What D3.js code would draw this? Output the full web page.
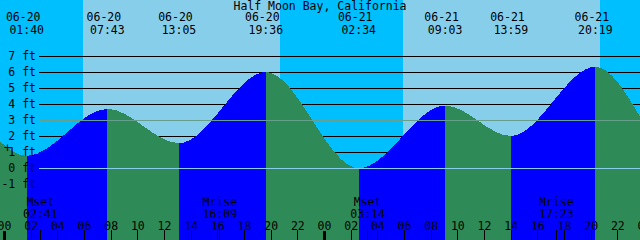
<!DOCTYPE html>
<html>
<head>
<meta charset="utf-8">
<script src="https://cdn.jsdelivr.net/npm/d3@7"></script>
<style>
  body { margin: 0; background: #fff; }
  svg { display: block; }
  text { font-family: "DejaVu Sans Mono", monospace; font-size: 11.5px; fill: #000; }
</style>
</head>
<body>
<div id="container"></div>
<script>
// Chart size
const width = 640, height = 240;

// Station name
const title = "Half Moon Bay, California";

// High / low tides (month-day hour:minute) and heights in feet
const tideTimes = ["06-20 01:40", "06-20 07:43", "06-20 13:05", "06-20 19:36",
                   "06-21 02:34", "06-21 09:03", "06-21 13:59", "06-21 20:19"];
const tideHeights = [0.75, 3.7, 1.55, 6.0, -0.02, 3.9, 2.0, 6.33];

// Tide level read at the left and right edges of the picture
const edgeTimes = ["06-19 23:40", "06-21 23:40"];
const edgeHeights = [1.64, 3.2];

// Sun and moon events
const sunriseTimes = ["06-20 05:52", "06-21 05:52"];
const sunsetTimes = ["06-20 20:40", "06-21 20:40"];
const moonNames = ["Mset", "Mrise", "Mset", "Mrise"];
const moonTimes = ["06-20 02:41", "06-20 16:09", "06-21 03:14", "06-21 17:23"];

// Height axis labels (feet) and reference lines
const feetTicks = [-1, 0, 1, 2, 3, 4, 5, 6, 7];
const datumLevel = 0;
const meanLevel = 3;

// Colours
const dayColor = "#87CEEB", nightColor = "#00BFFF";
const floodColor = "#0000FF", ebbColor = "#2E8B57";
const datumColor = "#87CEEB", meanColor = "#66A08C";

// Parse "MM-DD HH:MM" in a fixed year
const parse = d3.timeParse("%Y-%m-%d %H:%M");
const t = s => parse("2024-" + s);

// Time scale: midnight of 06-20 sits at x = 4.5, 13.33 px per hour
const start = new Date(+t("06-20 00:00") - 20.25 * 60000);
const end = new Date(+start + 48 * 3600000);
const x = d3.scaleTime().domain([start, end]).range([0, width]);
const y = d3.scaleLinear().domain([-1, 7]).range([184, 56]);

const svg = d3.select("#container")
    .append("svg")
    .attr("width", width)
    .attr("height", height);

// Day / night background
const nightStarts = [start, ...sunsetTimes.map(t)];
const nightEnds = [...sunriseTimes.map(t), end];
svg.append("rect")
    .attr("width", width).attr("height", height)
    .attr("fill", dayColor);
svg.append("g")
    .selectAll("rect")
    .data(nightStarts)
    .enter()
    .append("rect")
    .attr("x", d => Math.round(x(d)))
    .attr("width", (d, i) => Math.round(x(nightEnds[i])) - Math.round(x(d)))
    .attr("height", height)
    .attr("fill", nightColor);

// Black foot lines (behind the water)
svg.append("g")
    .attr("shape-rendering", "crispEdges")
    .selectAll("line")
    .data(feetTicks)
    .enter()
    .append("line")
    .attr("x1", 39).attr("x2", width)
    .attr("y1", d => y(d) + 0.5).attr("y2", d => y(d) + 0.5)
    .attr("stroke", "#000");

// Tide curve through the edge readings and the highs / lows
const points = [
    { time: t(edgeTimes[0]), h: edgeHeights[0] },
    ...tideTimes.map((s, i) => ({ time: t(s), h: tideHeights[i] })),
    { time: t(edgeTimes[1]), h: edgeHeights[1] }
];

const area = d3.area()
    .x(d => x(d.time))
    .y0(height)
    .y1(d => y(d.h))
    .curve(d3.curveMonotoneX);

// Ebb everywhere, flood clipped to the rising stretches
svg.append("path")
    .datum(points)
    .attr("d", area)
    .attr("fill", ebbColor)
    .attr("shape-rendering", "crispEdges");

const rising = d3.pairs(points).filter(([a, b]) => b.h > a.h);
const defs = svg.append("defs");
rising.forEach(([a, b], i) => {
    defs.append("clipPath")
        .attr("id", "rise" + i)
        .append("rect")
        .attr("x", Math.round(x(a.time)))
        .attr("width", Math.round(x(b.time)) - Math.round(x(a.time)))
        .attr("height", height);
    svg.append("path")
        .datum(points)
        .attr("d", area)
        .attr("fill", floodColor)
        .attr("clip-path", `url(#rise${i})`)
        .attr("shape-rendering", "crispEdges");
});

// Datum and mean lines on top
svg.append("g")
    .attr("shape-rendering", "crispEdges")
    .selectAll("line")
    .data([datumLevel, meanLevel])
    .enter()
    .append("line")
    .attr("x1", 39).attr("x2", width)
    .attr("y1", d => y(d) + 0.5).attr("y2", d => y(d) + 0.5)
    .attr("stroke", (d, i) => i === 0 ? datumColor : meanColor);

// Foot labels
svg.append("g")
    .attr("text-anchor", "end")
    .selectAll("text")
    .data(feetTicks)
    .enter()
    .append("text")
    .attr("x", 36)
    .attr("y", d => y(d) + 4)
    .text(d => `${d} ft`);

svg.append("text")
    .attr("x", 7.5)
    .attr("y", 152)
    .attr("text-anchor", "middle")
    .text("+");

// Title
svg.append("text")
    .attr("x", width / 2)
    .attr("y", 10)
    .attr("text-anchor", "middle")
    .text(title);

// High / low tide labels along the top
const tideLabels = svg.append("g")
    .attr("text-anchor", "middle")
    .selectAll("g")
    .data(tideTimes)
    .enter()
    .append("g");
tideLabels.append("text")
    .attr("x", d => x(t(d)) - 3.5)
    .attr("y", 21)
    .text(d => d.slice(0, 5));
tideLabels.append("text")
    .attr("x", d => x(t(d)))
    .attr("y", 33.5)
    .text(d => d.slice(6));

// Moon labels
const moonLabels = svg.append("g")
    .attr("text-anchor", "middle")
    .selectAll("g")
    .data(moonTimes)
    .enter()
    .append("g");
moonLabels.append("text")
    .attr("x", d => x(t(d)))
    .attr("y", 205.5)
    .text((d, i) => moonNames[i]);
moonLabels.append("text")
    .attr("x", d => x(t(d)))
    .attr("y", 217.5)
    .text(d => d.slice(6));

// Hour labels and ticks along the bottom
const hours = d3.timeHour.every(2).range(start, new Date(+end + 3600000 * 2));
svg.append("g")
    .attr("text-anchor", "middle")
    .selectAll("text")
    .data(hours)
    .enter()
    .append("text")
    .attr("x", d => x(d))
    .attr("y", 229.5)
    .text(d3.timeFormat("%H"));

const ticks = [...hours, ...moonTimes.map(t)];
svg.append("g")
    .attr("shape-rendering", "crispEdges")
    .selectAll("line")
    .data(ticks)
    .enter()
    .append("line")
    .attr("x1", d => Math.floor(x(d)) + 0.5)
    .attr("x2", d => Math.floor(x(d)) + 0.5)
    .attr("y1", d => d.getHours() === 0 && d.getMinutes() === 0 ? 231 : 230)
    .attr("y2", height)
    .attr("stroke", "#000")
    .attr("stroke-width", d => d.getHours() === 0 && d.getMinutes() === 0 ? 3 : 1);
</script>
</body>
</html>
